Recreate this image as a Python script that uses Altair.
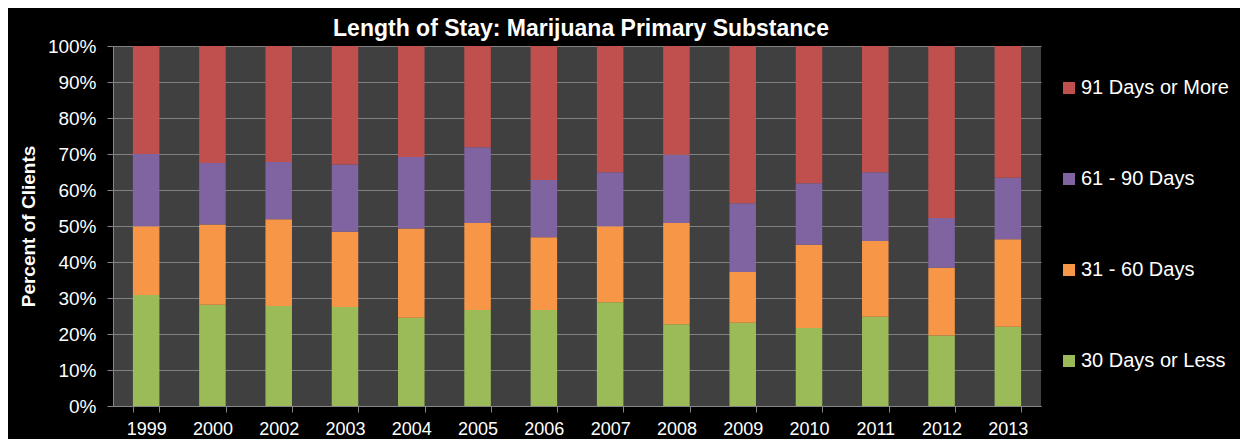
import altair as alt
import pandas as pd

years = ["1999", "2000", "2002", "2003", "2004", "2005", "2006",
         "2007", "2008", "2009", "2010", "2011", "2012", "2013"]
days_30_or_less = [30.8, 28.1, 27.8, 27.5, 24.5, 26.7, 26.7, 28.8, 22.7, 23.1, 21.7, 24.8, 19.6, 22.0]
days_31_60 = [19.1, 22.3, 24.1, 20.9, 24.8, 24.1, 20.2, 21.1, 28.1, 14.1, 23.1, 21.0, 18.8, 24.3]
days_61_90 = [20.1, 17.1, 15.9, 18.7, 19.9, 21.1, 15.9, 15.0, 19.0, 19.1, 17.1, 19.1, 13.8, 17.1]
days_91_plus = [30.0, 32.5, 32.2, 32.9, 30.8, 28.1, 37.2, 35.1, 30.2, 43.7, 38.1, 35.1, 47.8, 36.6]

series_names = ["30 Days or Less", "31 - 60 Days", "61 - 90 Days", "91 Days or More"]
series_values = [days_30_or_less, days_31_60, days_61_90, days_91_plus]
legend_order = ["91 Days or More", "61 - 90 Days", "31 - 60 Days", "30 Days or Less"]
legend_colors = ["#C0504D", "#8064A2", "#F79646", "#9BBB59"]

rows = []
for s_idx, (name, vals) in enumerate(zip(series_names, series_values)):
    for y, v in zip(years, vals):
        rows.append({"Year": y, "Stay": name, "Share": v / 100.0, "StackOrder": s_idx})
df = pd.DataFrame(rows)

FONT = "Liberation Sans"

chart = alt.Chart(df).mark_bar().encode(
    x=alt.X("Year:N", sort=years,
            scale=alt.Scale(paddingInner=0.6, paddingOuter=0.3),
            axis=alt.Axis(title=None, labelAngle=0, tickBand="extent",
                          labelFontSize=18, labelColor="white", labelFont=FONT,
                          labelPadding=8, tickSize=6, tickColor="#868686",
                          domainColor="#868686", labelFontWeight="normal")),
    y=alt.Y("Share:Q", stack="zero",
            scale=alt.Scale(domain=[0, 1], nice=False),
            axis=alt.Axis(title="Percent of Clients", format=".0%", values=[i / 10 for i in range(11)],
                          labelFontSize=19, labelColor="white", labelFont=FONT,
                          labelPadding=11, tickSize=6, tickColor="#868686",
                          domainColor="#868686", gridColor="#808080", gridWidth=1,
                          titleFontSize=19, titleColor="white", titleFont=FONT,
                          titleFontWeight="bold", titlePadding=9)),
    color=alt.Color("Stay:N",
                    scale=alt.Scale(domain=legend_order, range=legend_colors),
                    legend=alt.Legend(title=None, orient="none", legendX=946, legendY=32,
                                      symbolType="square", symbolSize=144, symbolStrokeWidth=0,
                                      labelFontSize=20, labelColor="white", labelFont=FONT,
                                      labelOffset=2, rowPadding=71, padding=0)),
    order=alt.Order("StackOrder:Q", sort="ascending"),
).properties(
    width=928,
    height=360,
    background="black",
    padding={"left": 105, "top": 38, "right": 199, "bottom": 33},
    autosize=alt.AutoSizeParams(type="none"),
    title=alt.TitleParams("Length of Stay: Marijuana Primary Substance",
                          fontSize=23, font=FONT, fontWeight="bold", color="white",
                          anchor="middle", frame="group", offset=-4, dx=4),
).configure_view(
    fill="#404040", stroke=None
)

chart.save("out.html", embed_options={"renderer": "svg", "actions": False})
